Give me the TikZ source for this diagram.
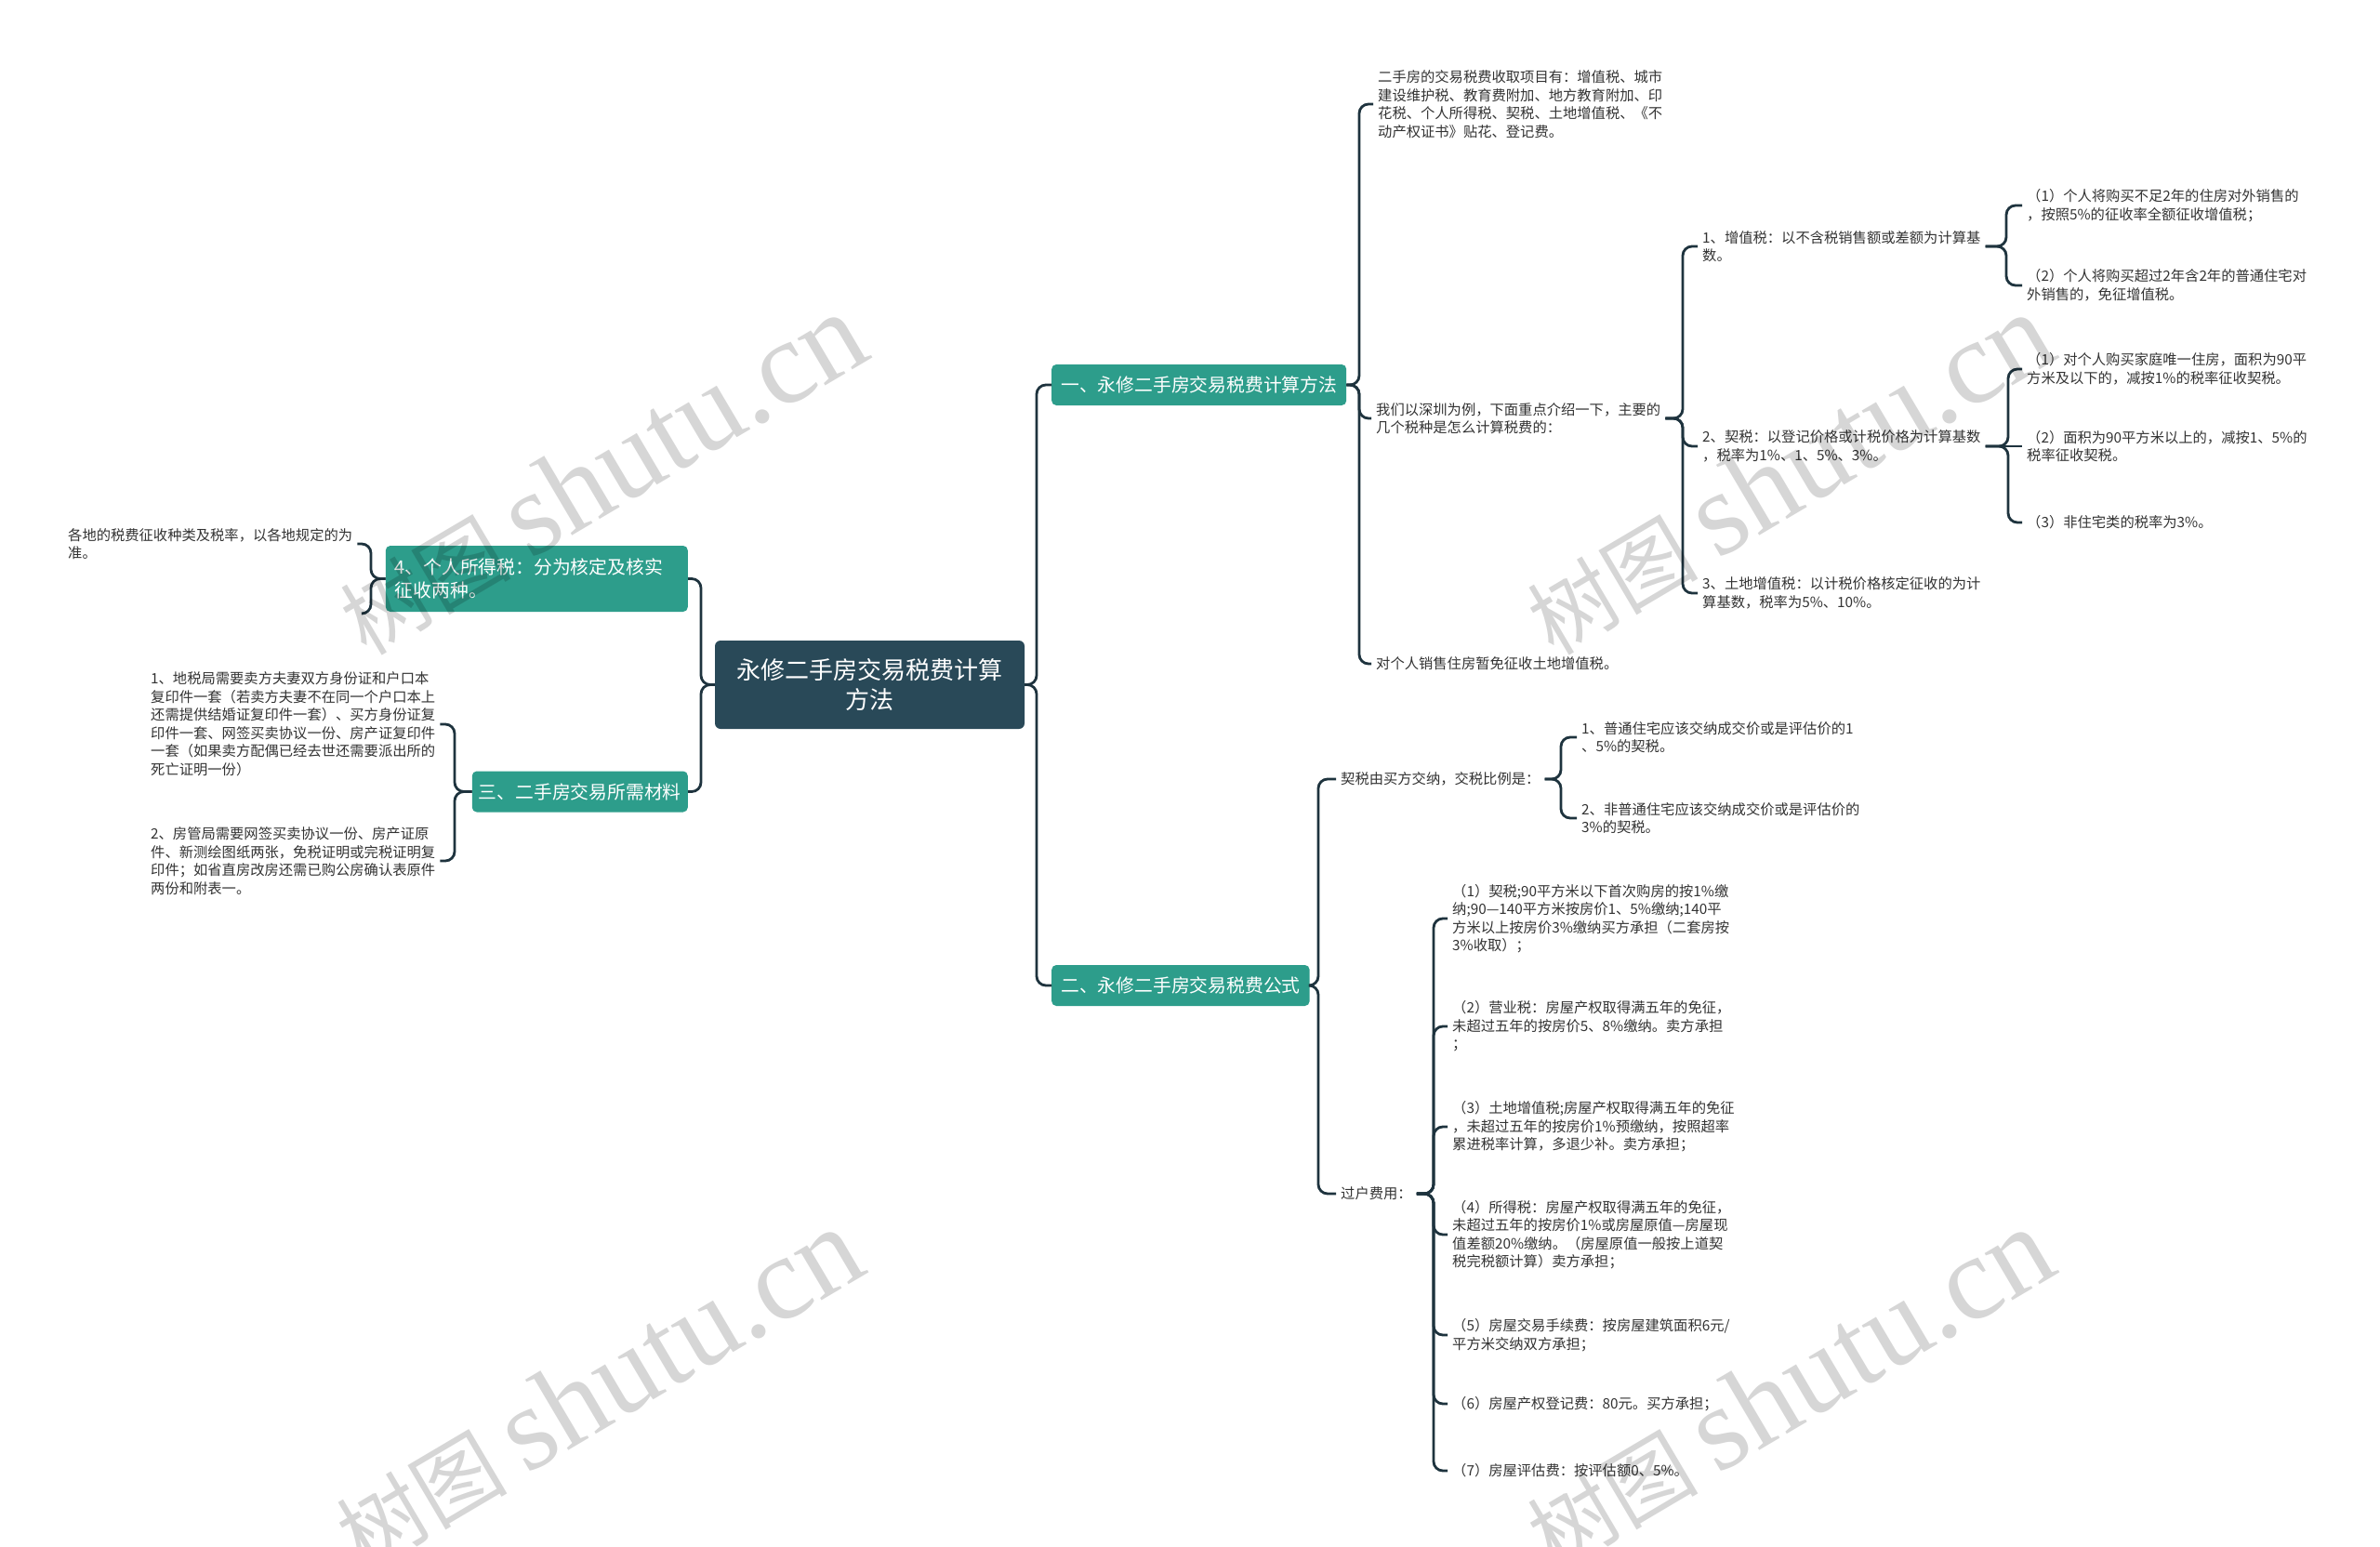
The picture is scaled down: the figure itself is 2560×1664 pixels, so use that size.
\documentclass[tikz,border=0pt]{standalone}
\usepackage{fontspec}
\setmainfont{Noto Sans CJK SC}
\newfontfamily\wmserif{Liberation Serif}
\definecolor{linec}{RGB}{30,51,62}
\definecolor{rootc}{RGB}{41,73,88}
\definecolor{tealc}{RGB}{45,157,139}
\definecolor{txtc}{RGB}{51,51,51}
\tikzset{
  conn/.style={draw=linec, line width=2.8pt, rounded corners=10pt},
  leaf/.style={font=\fontsize{15.3}{19.5}\selectfont, text=txtc, align=left, inner xsep=5pt, inner ysep=2pt, anchor=west},
  rootbox/.style={fill=rootc, rounded corners=6pt, text=white, font=\fontsize{26}{32}\selectfont, minimum width=333pt, minimum height=95pt, align=center},
  branchbox/.style={fill=tealc, rounded corners=5pt, text=white, font=\fontsize{19.8}{25}\selectfont, minimum height=44pt, inner xsep=10pt, align=center},
  wm/.style={text=black, opacity=0.16, font=\fontsize{92}{100}\selectfont, rotate=30.6}
}
\newcommand\linkR[3]{\draw[conn] (#1.east) -- (#1.east -| #3) -- (#2.west -| #3) -- (#2.west);}
\newcommand\linkL[3]{\draw[conn] (#1.west) -- (#1.west -| #3) -- (#2.east -| #3) -- (#2.east);}
\begin{document}
\begin{tikzpicture}[x=1pt,y=-1pt]
\useasboundingbox[fill=white] (0,0) rectangle (2560,1664);
% trunk x positions
\coordinate (TL) at (754,0);
\coordinate (TR) at (1115,0);
\coordinate (T1) at (1462,0);
\coordinate (T2) at (1810,0);
\coordinate (T3) at (2158,0);
\coordinate (T4) at (2160,0);
\coordinate (T5) at (1418,0);
\coordinate (T6) at (1679,0);
\coordinate (T7) at (1542,0);
\coordinate (T8) at (489,0);
\coordinate (T9) at (399,0);
% main nodes
\node[rootbox] (root) at (935.5,736.5) {永修二手房交易税费计算\\方法};
\node[branchbox, anchor=west, minimum width=314pt] (br1) at (1131,414) {一、永修二手房交易税费计算方法};
\node[branchbox, anchor=west, minimum width=272pt] (br2) at (1131,1060) {二、永修二手房交易税费公式};
\node[branchbox, anchor=east, minimum width=232pt, inner xsep=7pt] (br3) at (740,851.5) {三、二手房交易所需材料};
\node[branchbox, anchor=east, text width=305pt, align=left, minimum height=71pt] (br4) at (740,622.5) {4、个人所得税：分为核定及核实\\征收两种。};
% branch 1 leaves
\node[leaf] (t1) at (1477,112) {二手房的交易税费收取项目有：增值税、城市\\建设维护税、教育费附加、地方教育附加、印\\花税、个人所得税、契税、土地增值税、《不\\动产权证书》贴花、登记费。};
\node[leaf] (t2) at (1475,450) {我们以深圳为例，下面重点介绍一下，主要的\\几个税种是怎么计算税费的：};
\node[leaf] (t3) at (1475,714) {对个人销售住房暂免征收土地增值税。};
\node[leaf] (a1) at (1826,265) {1、增值税：以不含税销售额或差额为计算基\\数。};
\node[leaf] (a2) at (1826,480) {2、契税：以登记价格或计税价格为计算基数\\，税率为1\%、1、5\%、3\%。};
\node[leaf] (a3) at (1826,638) {3、土地增值税：以计税价格核定征收的为计\\算基数，税率为5\%、10\%。};
\node[leaf] (b1) at (2175,221) {（1）个人将购买不足2年的住房对外销售的\\，按照5\%的征收率全额征收增值税；};
\node[leaf] (b2) at (2175,307) {（2）个人将购买超过2年含2年的普通住宅对\\外销售的，免征增值税。};
\node[leaf] (c1) at (2175,397) {（1）对个人购买家庭唯一住房，面积为90平\\方米及以下的，减按1\%的税率征收契税。};
\node[leaf] (c2) at (2175,480) {（2）面积为90平方米以上的，减按1、5\%的\\税率征收契税。};
\node[leaf] (c3) at (2175,562) {（3）非住宅类的税率为3\%。};
% branch 2 leaves
\node[leaf] (d1) at (1437,838) {契税由买方交纳，交税比例是：};
\node[leaf] (e1) at (1696,793) {1、普通住宅应该交纳成交价或是评估价的1\\、5\%的契税。};
\node[leaf] (e2) at (1696,880) {2、非普通住宅应该交纳成交价或是评估价的\\3\%的契税。};
\node[leaf] (d2) at (1437,1284) {过户费用：};
\node[leaf] (f1) at (1557,988) {（1）契税;90平方米以下首次购房的按1\%缴\\纳;90—140平方米按房价1、5\%缴纳;140平\\方米以上按房价3\%缴纳买方承担（二套房按\\3\%收取）；};
\node[leaf] (f2) at (1557,1104) {（2）营业税：房屋产权取得满五年的免征，\\未超过五年的按房价5、8\%缴纳。卖方承担\\；};
\node[leaf] (f3) at (1557,1212) {（3）土地增值税;房屋产权取得满五年的免征\\，未超过五年的按房价1\%预缴纳，按照超率\\累进税率计算，多退少补。卖方承担；};
\node[leaf] (f4) at (1557,1328) {（4）所得税：房屋产权取得满五年的免征，\\未超过五年的按房价1\%或房屋原值—房屋现\\值差额20\%缴纳。（房屋原值一般按上道契\\税完税额计算）卖方承担；};
\node[leaf] (f5) at (1557,1436) {（5）房屋交易手续费：按房屋建筑面积6元/\\平方米交纳双方承担；};
\node[leaf] (f6) at (1557,1510) {（6）房屋产权登记费：80元。买方承担；};
\node[leaf] (f7) at (1557,1582) {（7）房屋评估费：按评估额0、5\%。};
% left leaves
\node[leaf] (g1) at (157,779) {1、地税局需要卖方夫妻双方身份证和户口本\\复印件一套（若卖方夫妻不在同一个户口本上\\还需提供结婚证复印件一套）、买方身份证复\\印件一套、网签买卖协议一份、房产证复印件\\一套（如果卖方配偶已经去世还需要派出所的\\死亡证明一份）};
\node[leaf] (g2) at (157,926) {2、房管局需要网签买卖协议一份、房产证原\\件、新测绘图纸两张，免税证明或完税证明复\\印件；如省直房改房还需已购公房确认表原件\\两份和附表一。};
\node[leaf] (h1) at (68,585) {各地的税费征收种类及税率，以各地规定的为\\准。};
\coordinate (h2) at (390,660);
% connectors
\linkR{root}{br1}{TR}
\linkR{root}{br2}{TR}
\linkL{root}{br4}{TL}
\linkL{root}{br3}{TL}
\linkR{br1}{t1}{T1}
\linkR{br1}{t2}{T1}
\linkR{br1}{t3}{T1}
\linkR{t2}{a1}{T2}
\linkR{t2}{a2}{T2}
\linkR{t2}{a3}{T2}
\linkR{a1}{b1}{T3}
\linkR{a1}{b2}{T3}
\linkR{a2}{c1}{T4}
\draw[conn] (a2.east) -- (c2.west);
\linkR{a2}{c3}{T4}
\linkR{br2}{d1}{T5}
\linkR{br2}{d2}{T5}
\linkR{d1}{e1}{T6}
\linkR{d1}{e2}{T6}
\linkR{d2}{f1}{T7}
\linkR{d2}{f2}{T7}
\linkR{d2}{f3}{T7}
\linkR{d2}{f4}{T7}
\linkR{d2}{f5}{T7}
\linkR{d2}{f6}{T7}
\linkR{d2}{f7}{T7}
\linkL{br3}{g1}{T8}
\linkL{br3}{g2}{T8}
\linkL{br4}{h1}{T9}
\draw[conn] (br4.west) -- (br4.west -| T9) -- (h2 -| T9) -- (h2);
% watermarks
\node[wm] (w1) at (647,510) {树图 {\wmserif\fontsize{128}{130}\selectfont shutu.cn}};
\node[wm] (w2) at (1924,510) {树图 {\wmserif\fontsize{128}{130}\selectfont shutu.cn}};
\node[wm] (w3) at (643,1494) {树图 {\wmserif\fontsize{128}{130}\selectfont shutu.cn}};
\node[wm] (w4) at (1924,1494) {树图 {\wmserif\fontsize{128}{130}\selectfont shutu.cn}};
\end{tikzpicture}
\end{document}
